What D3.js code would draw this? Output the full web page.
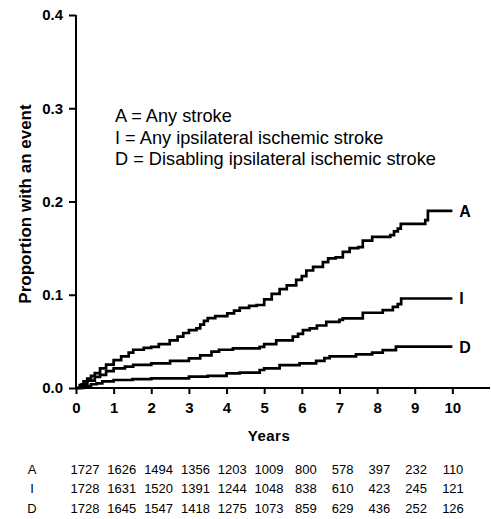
<!DOCTYPE html>
<html>
<head>
<meta charset="utf-8">
<script src="https://cdn.jsdelivr.net/npm/d3@7"></script>
<style>
  body { margin: 0; background: #fff; }
  svg { font-family: "Liberation Sans", Arial, sans-serif; }
</style>
</head>
<body>
<svg id="canvas" width="491" height="519"></svg>
<script>
// cumulative event curves, [years, proportion]
var anyStroke = [
  [0,0],[0.1,0.003],[0.2,0.007],[0.3,0.010],[0.4,0.013],[0.5,0.016],[0.64,0.021],
  [0.8,0.025],[1.0,0.030],[1.2,0.034],[1.4,0.038],[1.52,0.041],[1.8,0.043],[2.0,0.044],
  [2.2,0.047],[2.49,0.051],[2.7,0.055],[2.85,0.059],[3.0,0.062],[3.2,0.064],[3.3,0.068],
  [3.4,0.072],[3.5,0.075],[3.7,0.077],[4.02,0.080],[4.2,0.083],[4.35,0.086],[4.6,0.088],[4.8,0.089],
  [5.0,0.095],[5.2,0.101],[5.41,0.106],[5.6,0.110],[5.85,0.116],[6.0,0.120],[6.12,0.126],
  [6.3,0.130],[6.56,0.135],[6.7,0.139],[6.9,0.140],[7.09,0.146],[7.27,0.150],[7.5,0.151],
  [7.62,0.158],[7.87,0.162],[8.35,0.164],[8.45,0.168],[8.55,0.171],[8.63,0.176],
  [9.28,0.180],[9.35,0.190],[10,0.190]
];
var ipsiStroke = [
  [0,0],[0.15,0.004],[0.3,0.008],[0.5,0.012],[0.64,0.014],[0.8,0.018],[1.0,0.021],
  [1.3,0.023],[1.52,0.0247],[2.0,0.0265],[2.5,0.029],[3.0,0.0318],[3.3,0.035],[3.6,0.039],
  [3.8,0.041],[4.17,0.0425],[4.88,0.044],[5.0,0.047],[5.32,0.051],[5.76,0.055],[5.9,0.058],
  [6.03,0.062],[6.21,0.064],[6.4,0.067],[6.65,0.071],[7.0,0.073],[7.09,0.0747],[7.62,0.0807],
  [8.15,0.0836],[8.42,0.087],[8.55,0.090],[8.64,0.096],[10,0.096]
];
var disabStroke = [
  [0,0],[0.2,0.002],[0.4,0.004],[0.55,0.005],[0.7,0.007],[1.0,0.0086],[1.5,0.0095],
  [2.0,0.0104],[3.0,0.0122],[3.5,0.013],[4.0,0.0157],[4.35,0.0164],[4.88,0.0193],[5.0,0.021],
  [5.41,0.0246],[5.94,0.0264],[6.38,0.029],[6.6,0.032],[6.74,0.034],[7.44,0.036],[7.87,0.038],
  [8.15,0.0407],[8.5,0.0443],[10,0.0443]
];

var seriesKeys = ["A", "I", "D"];
var legendLines = [
  "A = Any stroke",
  "I = Any ipsilateral ischemic stroke",
  "D = Disabling ipsilateral ischemic stroke"
];
var xTicks = [0,1,2,3,4,5,6,7,8,9,10];
var yTicks = [0.0, 0.1, 0.2, 0.3, 0.4];

// numbers at risk
var atRiskA = [1727,1626,1494,1356,1203,1009,800,578,397,232,110];
var atRiskI = [1728,1631,1520,1391,1244,1048,838,610,423,245,121];
var atRiskD = [1728,1645,1547,1418,1275,1073,859,629,436,252,126];

var svg = d3.select("#canvas");

var x = d3.scaleLinear().domain([0, 11]).range([76, 490]);
var y = d3.scaleLinear().domain([0, 0.4]).range([388, 15]);

// y axis
var yAxis = svg.append("g")
  .attr("transform", "translate(" + x(0) + ",0)")
  .call(d3.axisLeft(y).tickValues(yTicks).tickSize(7).tickPadding(6).tickFormat(d3.format(".1f")));
yAxis.select(".domain").attr("stroke-width", 2).attr("d", "M0," + y(0.4) + "V" + y(0));
yAxis.selectAll(".tick line").attr("stroke-width", 2);
yAxis.selectAll(".tick text")
  .attr("font-size", 15).attr("font-weight", "bold").attr("font-family", null);

// x axis
var xAxis = svg.append("g")
  .attr("transform", "translate(0," + y(0) + ")")
  .call(d3.axisBottom(x).tickValues(xTicks).tickSize(6).tickPadding(8).tickFormat(d3.format("d")));
xAxis.select(".domain").attr("stroke-width", 2).attr("d", "M" + x(0) + ",0H" + x(11));
xAxis.selectAll(".tick line").attr("stroke-width", 2);
xAxis.selectAll(".tick text")
  .attr("font-size", 15).attr("font-weight", "bold").attr("font-family", null);

svg.append("text")
  .attr("x", 269).attr("y", 441)
  .attr("text-anchor", "middle")
  .attr("font-size", 15).attr("font-weight", "bold")
  .attr("letter-spacing", 0.5)
  .text("Years");

svg.append("text")
  .attr("transform", "translate(31,204) rotate(-90)")
  .attr("text-anchor", "middle")
  .attr("font-size", 17).attr("font-weight", "bold")
  .text("Proportion with an event");

// curves
var line = d3.line()
  .x(function(d) { return x(d[0]); })
  .y(function(d) { return y(d[1]); })
  .curve(d3.curveStepAfter);

var curves = [anyStroke, ipsiStroke, disabStroke];

svg.selectAll(".curve")
  .data(curves)
  .enter().append("path")
  .attr("class", "curve")
  .attr("fill", "none")
  .attr("stroke", "#000")
  .attr("stroke-width", 2.7)
  .attr("d", line);

svg.selectAll(".endlabel")
  .data(curves)
  .enter().append("text")
  .attr("class", "endlabel")
  .attr("x", function(d) { return x(d[d.length - 1][0]) + 7; })
  .attr("y", function(d) { return y(d[d.length - 1][1]) + 6; })
  .attr("font-size", 16).attr("font-weight", "bold")
  .text(function(d, i) { return seriesKeys[i]; });

// legend
svg.selectAll(".legend")
  .data(legendLines)
  .enter().append("text")
  .attr("class", "legend")
  .attr("x", 115)
  .attr("y", function(d, i) { return 122 + i * 21.5; })
  .attr("font-size", 18.2)
  .text(function(d) { return d; });

// numbers at risk table
var col = d3.scaleLinear().domain([0, 10]).range([85, 453]);
var rows = [atRiskA, atRiskI, atRiskD];

var row = svg.selectAll(".riskrow")
  .data(rows)
  .enter().append("g")
  .attr("class", "riskrow")
  .attr("transform", function(d, i) { return "translate(0," + (474 + i * 19.3) + ")"; });

row.append("text")
  .attr("x", 32)
  .attr("text-anchor", "middle")
  .attr("font-size", 13)
  .text(function(d, i) { return seriesKeys[i]; });

row.selectAll(".n")
  .data(function(d) { return d; })
  .enter().append("text")
  .attr("class", "n")
  .attr("x", function(d, i) { return col(i); })
  .attr("text-anchor", "middle")
  .attr("font-size", 13)
  .text(function(d) { return d; });
</script>
</body>
</html>
